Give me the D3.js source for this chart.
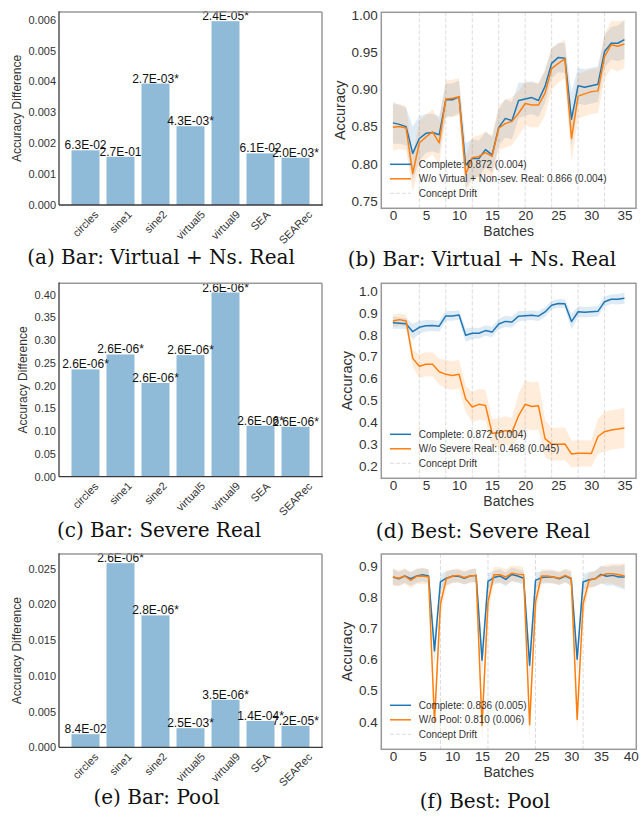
<!DOCTYPE html>
<html>
<head>
<meta charset="utf-8">
<script src="https://cdn.jsdelivr.net/npm/d3@7"></script>
<style>
  html, body { margin: 0; padding: 0; background: #ffffff; }
  svg { display: block; }
</style>
</head>
<body>
<svg id="fig" width="644" height="816"></svg>
<script>
// ---------------------------------------------------------------
// Data
// ---------------------------------------------------------------
const datasets = ["circles", "sine1", "sine2", "virtual5", "virtual9", "SEA", "SEARec"];

// Accuracy difference per dataset (bar height) and the p-value printed above each bar
const diffVirtualNs = [0.00177, 0.00156, 0.00393, 0.00255, 0.00595, 0.00167, 0.00153];
const pVirtualNs    = ["6.3E-02", "2.7E-01", "2.7E-03*", "4.3E-03*", "2.4E-05*", "6.1E-02", "2.0E-03*"];
const diffSevere    = [0.2357, 0.2685, 0.2060, 0.2670, 0.4046, 0.1120, 0.1097];
const pSevere       = ["2.6E-06*", "2.6E-06*", "2.6E-06*", "2.6E-06*", "2.6E-06*", "2.6E-06*", "2.6E-06*"];
const diffPool      = [0.00183, 0.02574, 0.01844, 0.00267, 0.00664, 0.00369, 0.00299];
const pPool         = ["8.4E-02", "2.6E-06*", "2.8E-06*", "2.5E-03*", "3.5E-06*", "1.4E-04*", "7.2E-05*"];

const barTicksVirtualNs = [0.000, 0.001, 0.002, 0.003, 0.004, 0.005, 0.006];
const barTicksSevere    = [0.00, 0.05, 0.10, 0.15, 0.20, 0.25, 0.30, 0.35, 0.40];
const barTicksPool      = [0.000, 0.005, 0.010, 0.015, 0.020, 0.025];

// Per-batch accuracy (mean and spread) of the complete model, 36 batches
const completeMean = [0.855, 0.853, 0.850, 0.814, 0.834, 0.841, 0.842, 0.839, 0.886, 0.886,
                      0.890, 0.798, 0.807, 0.807, 0.819, 0.812, 0.849, 0.861, 0.858, 0.885,
                      0.887, 0.889, 0.885, 0.904, 0.935, 0.943, 0.942, 0.860, 0.905, 0.903,
                      0.905, 0.907, 0.951, 0.962, 0.962, 0.967];
const completeStd  = [0.028, 0.026, 0.025, 0.036, 0.030, 0.026, 0.025, 0.025, 0.022, 0.022,
                      0.022, 0.030, 0.026, 0.024, 0.024, 0.024, 0.024, 0.026, 0.025, 0.024,
                      0.022, 0.022, 0.022, 0.022, 0.020, 0.020, 0.020, 0.036, 0.024, 0.024,
                      0.024, 0.024, 0.022, 0.022, 0.024, 0.026];

// Without virtual + non-severe real drift handling
const virtualNsMean = [0.849, 0.850, 0.848, 0.787, 0.828, 0.836, 0.843, 0.828, 0.887, 0.888,
                       0.890, 0.786, 0.808, 0.810, 0.815, 0.810, 0.848, 0.854, 0.857, 0.868,
                       0.881, 0.879, 0.879, 0.895, 0.928, 0.935, 0.941, 0.834, 0.891, 0.894,
                       0.897, 0.898, 0.944, 0.960, 0.958, 0.961];
const virtualNsStd  = [0.031, 0.030, 0.030, 0.025, 0.030, 0.030, 0.030, 0.030, 0.025, 0.025,
                       0.025, 0.024, 0.028, 0.028, 0.028, 0.028, 0.030, 0.032, 0.032, 0.030,
                       0.030, 0.030, 0.030, 0.030, 0.028, 0.026, 0.026, 0.032, 0.030, 0.030,
                       0.030, 0.030, 0.030, 0.032, 0.034, 0.032];

// Without severe real drift handling
const severeMean = [0.863, 0.869, 0.863, 0.692, 0.656, 0.665, 0.665, 0.631, 0.619, 0.614,
                    0.619, 0.507, 0.470, 0.482, 0.477, 0.350, 0.352, 0.362, 0.355, 0.430,
                    0.482, 0.472, 0.476, 0.325, 0.300, 0.300, 0.301, 0.255, 0.258, 0.258,
                    0.257, 0.335, 0.357, 0.365, 0.369, 0.374];
const severeStd  = [0.028, 0.028, 0.028, 0.040, 0.055, 0.055, 0.055, 0.060, 0.065, 0.065,
                    0.065, 0.060, 0.070, 0.070, 0.070, 0.065, 0.065, 0.065, 0.065, 0.100,
                    0.110, 0.110, 0.110, 0.085, 0.075, 0.075, 0.075, 0.062, 0.060, 0.060,
                    0.060, 0.080, 0.090, 0.090, 0.090, 0.092];

// Pool experiment, 40 batches
const poolCompleteMean = [0.864, 0.858, 0.867, 0.858, 0.867, 0.871, 0.867, 0.627, 0.848, 0.860,
                          0.866, 0.867, 0.860, 0.867, 0.869, 0.597, 0.850, 0.862, 0.867, 0.856,
                          0.872, 0.867, 0.860, 0.581, 0.853, 0.862, 0.864, 0.864, 0.858, 0.867,
                          0.858, 0.600, 0.848, 0.855, 0.858, 0.872, 0.866, 0.869, 0.864, 0.864];
const poolCompleteStd  = [0.025, 0.022, 0.022, 0.022, 0.022, 0.022, 0.022, 0.045, 0.025, 0.022,
                          0.020, 0.020, 0.020, 0.020, 0.022, 0.050, 0.025, 0.022, 0.022, 0.022,
                          0.022, 0.022, 0.022, 0.050, 0.025, 0.020, 0.020, 0.020, 0.020, 0.020,
                          0.022, 0.048, 0.025, 0.025, 0.025, 0.028, 0.030, 0.032, 0.035, 0.040];
const noPoolMean = [0.864, 0.860, 0.867, 0.853, 0.866, 0.867, 0.864, 0.401, 0.778, 0.858,
                    0.866, 0.869, 0.862, 0.867, 0.869, 0.388, 0.784, 0.871, 0.871, 0.864,
                    0.876, 0.873, 0.871, 0.390, 0.784, 0.867, 0.867, 0.864, 0.860, 0.869,
                    0.860, 0.407, 0.778, 0.853, 0.858, 0.869, 0.874, 0.874, 0.871, 0.867];
const noPoolStd  = [0.028, 0.025, 0.025, 0.025, 0.025, 0.025, 0.025, 0.045, 0.045, 0.025,
                    0.022, 0.022, 0.022, 0.022, 0.022, 0.048, 0.045, 0.025, 0.025, 0.025,
                    0.025, 0.025, 0.025, 0.048, 0.045, 0.022, 0.022, 0.022, 0.022, 0.022,
                    0.025, 0.045, 0.045, 0.025, 0.025, 0.028, 0.030, 0.032, 0.035, 0.040];

// Batches at which a concept drift occurs
const driftBatches = [4, 8, 12, 16, 20, 24, 28, 32];
const driftBatchesPool = [8, 16, 24, 32];

const batchTicks36 = [0, 5, 10, 15, 20, 25, 30, 35];
const batchTicks40 = [0, 5, 10, 15, 20, 25, 30, 35, 40];
const accTicksVirtualNs = [0.75, 0.80, 0.85, 0.90, 0.95, 1.00];
const accTicksSevere = [0.2, 0.3, 0.4, 0.5, 0.6, 0.7, 0.8, 0.9, 1.0];
const accTicksPool = [0.4, 0.5, 0.6, 0.7, 0.8, 0.9];

// ---------------------------------------------------------------
// Drawing
// ---------------------------------------------------------------
const SANS = "'Liberation Sans', Arial, Helvetica, sans-serif";
const SERIF = "'DejaVu Serif', 'Liberation Serif', serif";
const BLUE = "#1f77b4", ORANGE = "#ff7f0e";
const svg = d3.select("#fig");

function caption(text, cx, baseline) {
  svg.append("text")
    .attr("x", cx).attr("y", baseline)
    .attr("text-anchor", "middle")
    .attr("font-family", SERIF).attr("font-size", 20)
    .attr("fill", "#111")
    .text(text);
}

function barPanel(box, values, pvals, ticks, fmt) {
  const g = svg.append("g").attr("font-family", SANS);
  const x = d3.scaleBand().domain(datasets)
    .range([box.l, box.r]).paddingInner(0.2).paddingOuter(0.357);
  const y = d3.scaleLinear().domain([0, d3.max(values) * 1.05]).range([box.b, box.t]);

  g.selectAll("rect.bar").data(values).join("rect")
    .attr("class", "bar")
    .attr("x", (d, i) => x(datasets[i]))
    .attr("width", x.bandwidth())
    .attr("y", d => y(d))
    .attr("height", d => y(0) - y(d))
    .attr("fill", "#8fbbd9");

  g.selectAll("text.pv").data(values).join("text")
    .attr("class", "pv")
    .attr("x", (d, i) => x(datasets[i]) + x.bandwidth() / 2)
    .attr("y", d => y(d) - 1)
    .attr("text-anchor", "middle")
    .attr("font-size", 12)
    .attr("fill", "#111")
    .text((d, i) => pvals[i]);

  // y axis
  const ya = g.append("g").attr("transform", `translate(${box.l},0)`)
    .call(d3.axisLeft(y).tickValues(ticks).tickFormat(d3.format(fmt)).tickSize(0).tickPadding(3));
  ya.attr("font-family", SANS).attr("font-size", 11);
  ya.select(".domain").remove();
  ya.selectAll("text").attr("fill", "#333");
  const maxW = d3.max(ya.selectAll("text").nodes(), n => n.getComputedTextLength());

  // rotated dataset names
  datasets.forEach(name => {
    const lg = g.append("g");
    lg.append("text")
      .attr("transform", "rotate(-45)")
      .attr("text-anchor", "end")
      .attr("font-size", 11)
      .attr("fill", "#333")
      .text(name);
    const bb = lg.node().getBBox();
    const cx = x(name) + x.bandwidth() / 2;
    lg.attr("transform", `translate(${cx - (bb.x + bb.width / 2)},${box.b + 3 - bb.y})`);
  });

  // y label
  const ly = box.l - 3 - maxW - 5 - 2.5;
  g.append("text")
    .attr("transform", `translate(${ly},${(box.t + box.b) / 2}) rotate(-90)`)
    .attr("text-anchor", "middle")
    .attr("font-size", 12)
    .attr("fill", "#333")
    .text("Accuracy Difference");

  // frame
  g.append("line").attr("x1", box.l).attr("x2", box.r).attr("y1", box.t).attr("y2", box.t)
    .attr("stroke", "#999").attr("stroke-width", 1.5);
  g.append("line").attr("x1", box.r).attr("x2", box.r).attr("y1", box.t).attr("y2", box.b)
    .attr("stroke", "#999").attr("stroke-width", 1.5);
  g.append("line").attr("x1", box.l).attr("x2", box.l).attr("y1", box.t - 0.75).attr("y2", box.b)
    .attr("stroke", "#3a3a3a").attr("stroke-width", 1.3);
  g.append("line").attr("x1", box.l).attr("x2", box.r + 0.75).attr("y1", box.b).attr("y2", box.b)
    .attr("stroke", "#3a3a3a").attr("stroke-width", 1.3);
}

let clipId = 0;
function linePanel(box, xDomain, yDomain, xTicks, yTicks, yFmt, series, drifts, labels) {
  const g = svg.append("g").attr("font-family", SANS);
  const x = d3.scaleLinear().domain(xDomain).range([box.l, box.r]);
  const y = d3.scaleLinear().domain(yDomain).range([box.b, box.t]);

  const id = "clip" + (clipId++);
  g.append("clipPath").attr("id", id).append("rect")
    .attr("x", box.l).attr("y", box.t).attr("width", box.r - box.l).attr("height", box.b - box.t);
  const plot = g.append("g").attr("clip-path", `url(#${id})`);

  // concept drift markers
  plot.selectAll("line.drift").data(drifts).join("line")
    .attr("class", "drift")
    .attr("x1", d => x(d)).attr("x2", d => x(d))
    .attr("y1", box.t).attr("y2", box.b)
    .attr("stroke", "#dcdcdc").attr("stroke-width", 1)
    .attr("stroke-dasharray", "4,2");

  // spread bands
  series.forEach(s => {
    const pts = s.mean.map((m, i) => ({ i, m, s: s.std[i] }));
    plot.append("path").datum(pts)
      .attr("d", d3.area().x(d => x(d.i)).y0(d => y(d.m - d.s)).y1(d => y(d.m + d.s)))
      .attr("fill", s.color).attr("fill-opacity", 0.15);
  });
  // mean lines
  series.forEach(s => {
    plot.append("path").datum(s.mean)
      .attr("d", d3.line().x((d, i) => x(i)).y(d => y(d)))
      .attr("fill", "none").attr("stroke", s.color).attr("stroke-width", 1.5)
      .attr("stroke-linejoin", "round");
  });

  // axes
  const xa = g.append("g").attr("transform", `translate(0,${box.b})`)
    .call(d3.axisBottom(x).tickValues(xTicks).tickFormat(d3.format("d")).tickSize(0).tickPadding(2));
  xa.attr("font-family", SANS).attr("font-size", 13.5);
  xa.select(".domain").remove();
  xa.selectAll("text").attr("fill", "#333");

  const ya = g.append("g").attr("transform", `translate(${box.l},0)`)
    .call(d3.axisLeft(y).tickValues(yTicks).tickFormat(d3.format(yFmt)).tickSize(0).tickPadding(3.5));
  ya.attr("font-family", SANS).attr("font-size", 13.5);
  ya.select(".domain").remove();
  ya.selectAll("text").attr("fill", "#333");
  const maxW = d3.max(ya.selectAll("text").nodes(), n => n.getComputedTextLength());

  g.append("text")
    .attr("x", (box.l + box.r) / 2).attr("y", box.b + 28)
    .attr("text-anchor", "middle").attr("font-size", 14).attr("fill", "#333")
    .text("Batches");
  g.append("text")
    .attr("transform", `translate(${box.l - 3.5 - maxW - 4 - 3},${(box.t + box.b) / 2}) rotate(-90)`)
    .attr("text-anchor", "middle").attr("font-size", 14.5).attr("fill", "#333")
    .text("Accuracy");

  // legend
  const entries = [
    { label: labels[0], color: BLUE, dash: null },
    { label: labels[1], color: ORANGE, dash: null },
    { label: "Concept Drift", color: "#dcdcdc", dash: "4,2" }
  ];
  const rowY = [box.b - 44, box.b - 29.5, box.b - 15];
  entries.forEach((e, k) => {
    g.append("line")
      .attr("x1", box.l + 8.7).attr("x2", box.l + 29.7)
      .attr("y1", rowY[k]).attr("y2", rowY[k])
      .attr("stroke", e.color).attr("stroke-width", e.dash ? 1 : 1.5)
      .attr("stroke-dasharray", e.dash);
    g.append("text")
      .attr("x", box.l + 37.4).attr("y", rowY[k]).attr("dy", "0.35em")
      .attr("font-size", 10).attr("fill", "#333")
      .text(e.label);
  });

  // frame
  g.append("rect")
    .attr("x", box.l).attr("y", box.t)
    .attr("width", box.r - box.l).attr("height", box.b - box.t)
    .attr("fill", "none").attr("stroke", "#999").attr("stroke-width", 1.5);
}

// (a)
barPanel({ l: 59, r: 322, t: 12, b: 205 }, diffVirtualNs, pVirtualNs, barTicksVirtualNs, ".3f");
caption("(a) Bar: Virtual + Ns. Real", 161, 264);

// (b)
linePanel({ l: 381.3, r: 636, t: 12.3, b: 208.3 }, [-1.75, 36.75], [0.7402, 1.0036],
  batchTicks36, accTicksVirtualNs, ".2f",
  [{ mean: completeMean, std: completeStd, color: BLUE },
   { mean: virtualNsMean, std: virtualNsStd, color: ORANGE }],
  driftBatches,
  ["Complete: 0.872 (0.004)", "W/o Virtual + Non-sev. Real: 0.866 (0.004)"]);
caption("(b) Bar: Virtual + Ns. Real", 482, 266);

// (c)
barPanel({ l: 59, r: 322, t: 283.3, b: 476.7 }, diffSevere, pSevere, barTicksSevere, ".2f");
caption("(c) Bar: Severe Real", 159, 537);

// (d)
linePanel({ l: 381.3, r: 636, t: 283.3, b: 478.3 }, [-1.75, 36.75], [0.144, 1.035],
  batchTicks36, accTicksSevere, ".1f",
  [{ mean: completeMean, std: completeStd, color: BLUE },
   { mean: severeMean, std: severeStd, color: ORANGE }],
  driftBatches,
  ["Complete: 0.872 (0.004)", "W/o Severe Real: 0.468 (0.045)"]);
caption("(d) Best: Severe Real", 483, 538);

// (e)
barPanel({ l: 59, r: 322, t: 554, b: 747.3 }, diffPool, pPool, barTicksPool, ".3f");
caption("(e) Bar: Pool", 156.5, 804);

// (f)
linePanel({ l: 381.3, r: 636.3, t: 554, b: 749.3 }, [-1.95, 40.95], [0.3115, 0.9375],
  batchTicks40, accTicksPool, ".1f",
  [{ mean: poolCompleteMean, std: poolCompleteStd, color: BLUE },
   { mean: noPoolMean, std: noPoolStd, color: ORANGE }],
  driftBatchesPool,
  ["Complete: 0.836 (0.005)", "W/o Pool: 0.810 (0.006)"]);
caption("(f) Best: Pool", 485, 808);
</script>
</body>
</html>
